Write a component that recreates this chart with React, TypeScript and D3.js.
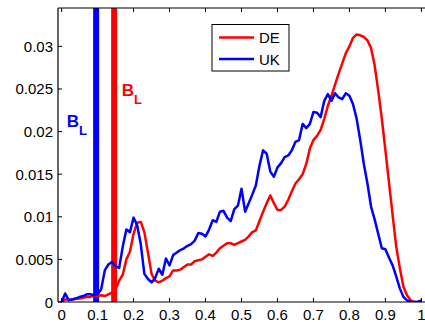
import * as d3 from 'd3'

// bin centres and densities
const bins = d3.range(0, 101).map((i) => i / 100)

const deValues = [
  0.0, 0.0003, 0.0003, 0.0003, 0.0004, 0.0004, 0.0005, 0.0006, 0.0006, 0.0007,
  0.0007, 0.0008, 0.0007, 0.0009, 0.0011, 0.0015, 0.0025, 0.0032, 0.005, 0.0059,
  0.008, 0.0093, 0.0094, 0.0082, 0.0058, 0.0033, 0.0025, 0.0023, 0.0025, 0.0028,
  0.003, 0.0037, 0.0037, 0.0038, 0.0041, 0.0044, 0.0044, 0.0048, 0.0049, 0.005,
  0.0053, 0.0056, 0.0054, 0.0058, 0.0063, 0.0066, 0.0069, 0.0069, 0.0067, 0.0069,
  0.0071, 0.0073, 0.0077, 0.0082, 0.0084, 0.0095, 0.0106, 0.0116, 0.0125, 0.0116,
  0.0108, 0.0108, 0.0112, 0.012, 0.013, 0.0139, 0.0144, 0.015, 0.0162, 0.018,
  0.019, 0.0195, 0.0202, 0.0215, 0.023, 0.0242, 0.0255, 0.0268, 0.028, 0.0292,
  0.03, 0.031, 0.0314, 0.0313, 0.0311, 0.0307, 0.0298, 0.0278, 0.0248, 0.0215,
  0.0178, 0.014, 0.0102, 0.0065, 0.004, 0.0018, 0.0008, 0.0002, 0.0, 0.0,
  0.0,
]

const ukValues = [
  0.0, 0.001, 0.0002, 0.0003, 0.0004, 0.0006, 0.0007, 0.0009, 0.0009, 0.0008,
  0.0009, 0.0015, 0.0037, 0.0044, 0.0047, 0.0042, 0.004, 0.0065, 0.0085, 0.0082,
  0.0099, 0.009, 0.0068, 0.0033, 0.0027, 0.0023, 0.0028, 0.0039, 0.0032, 0.0051,
  0.0043, 0.0055, 0.0058, 0.0061, 0.0063, 0.0066, 0.0068, 0.0072, 0.0081, 0.008,
  0.0077, 0.0085, 0.0096, 0.0094, 0.0106, 0.0107, 0.0099, 0.0095, 0.0109, 0.0113,
  0.0133, 0.0106, 0.0116, 0.0126, 0.0137, 0.016, 0.0178, 0.0174, 0.0153, 0.0147,
  0.0158, 0.0163, 0.017, 0.0172, 0.0178, 0.0188, 0.019, 0.0209, 0.0204, 0.0209,
  0.0223, 0.0222, 0.0217, 0.0236, 0.0244, 0.0236, 0.0245, 0.024, 0.0238, 0.0245,
  0.0242, 0.0232, 0.0215, 0.019, 0.0162, 0.0139, 0.0112, 0.0097, 0.008, 0.0063,
  0.0062, 0.0052, 0.0043, 0.003, 0.0016, 0.0006, 0.0002, 0.0, 0.0, 0.0,
  0.0002,
]

const seriesNames = ['DE', 'UK']
const seriesColors = ['#ff0000', '#0000ff']

// B_L thresholds (DE, UK)
const thresholds = [0.146, 0.096]

const xTicks = d3.range(0, 11).map((i) => i / 10)
const yTicks = [0, 0.005, 0.01, 0.015, 0.02, 0.025, 0.03]

export default function App() {
  const width = 425
  const height = 322
  const margin = { top: 8, left: 58 }
  const plotW = 367
  const plotH = 294

  const x = d3.scaleLinear().domain([-0.01, 1.01]).range([margin.left, margin.left + plotW])
  const y = d3.scaleLinear().domain([0, 0.0345]).range([margin.top + plotH, margin.top])

  const line = d3
    .line<number>()
    .x((_, i) => x(bins[i]))
    .y((d) => y(d))

  const series = [deValues, ukValues]
  const font = '"Liberation Sans", Arial, Helvetica, sans-serif'
  const x0 = margin.left
  const y0 = margin.top + plotH

  // label positions in data units
  const labelPos = [
    { x: 0.167, y: 0.0242 },
    { x: 0.014, y: 0.0205 },
  ]

  return (
    <svg
      width={width}
      height={height}
      style={{ position: 'absolute', left: 0, top: 0, background: '#fff' }}
      fontFamily={font}
    >
      <defs>
        <clipPath id="plot">
          <rect x={x0} y={margin.top} width={plotW} height={plotH} />
        </clipPath>
      </defs>

      <g clipPath="url(#plot)">
        {thresholds.map((t, i) => (
          <line
            key={'th' + i}
            x1={x(t)}
            x2={x(t)}
            y1={margin.top}
            y2={y0}
            stroke={seriesColors[i]}
            strokeWidth={6}
          />
        ))}
        {series.map((s, i) => (
          <path
            key={'s' + i}
            d={line(s) || ''}
            fill="none"
            stroke={seriesColors[i]}
            strokeWidth={2.5}
            strokeLinejoin="round"
          />
        ))}
      </g>

      {/* B_L annotations */}
      {labelPos.map((p, i) => (
        <text
          key={'bl' + i}
          x={x(p.x)}
          y={y(p.y)}
          fill={seriesColors[i]}
          fontWeight="bold"
          fontSize={17}
        >
          B
          <tspan dy={8} fontSize={13}>
            L
          </tspan>
        </text>
      ))}

      {/* axes */}
      <line x1={x0} x2={x0} y1={margin.top} y2={y0} stroke="#000" strokeWidth={1.2} />
      <line x1={x0} x2={width} y1={y0} y2={y0} stroke="#000" strokeWidth={1.2} />
      <line x1={x0} x2={width} y1={margin.top} y2={margin.top} stroke="#000" strokeWidth={1.2} />

      {xTicks.map((t) => (
        <g key={'xt' + t}>
          <line x1={x(t)} x2={x(t)} y1={y0} y2={y0 - 4} stroke="#000" />
          <line x1={x(t)} x2={x(t)} y1={margin.top} y2={margin.top + 4} stroke="#000" />
          <text x={x(t)} y={y0 + 18} textAnchor="middle" fontSize={15}>
            {d3.format('~g')(t)}
          </text>
        </g>
      ))}

      {yTicks.map((t) => (
        <g key={'yt' + t}>
          <line x1={x0} x2={x0 + 4} y1={y(t)} y2={y(t)} stroke="#000" />
          <text x={x0 - 5} y={y(t) + 5.5} textAnchor="end" fontSize={15}>
            {d3.format('~g')(t)}
          </text>
        </g>
      ))}

      {/* legend */}
      <g transform="translate(212,24.5)">
        <rect width={77} height={46.5} fill="#fff" stroke="#000" strokeWidth={1} />
        {seriesNames.map((n, i) => (
          <g key={'lg' + i} transform={`translate(0,${13 + i * 21.5})`}>
            <line x1={7} x2={42} y1={0} y2={0} stroke={seriesColors[i]} strokeWidth={2.5} />
            <text x={47} y={5.5} fontSize={15}>
              {n}
            </text>
          </g>
        ))}
      </g>
    </svg>
  )
}
